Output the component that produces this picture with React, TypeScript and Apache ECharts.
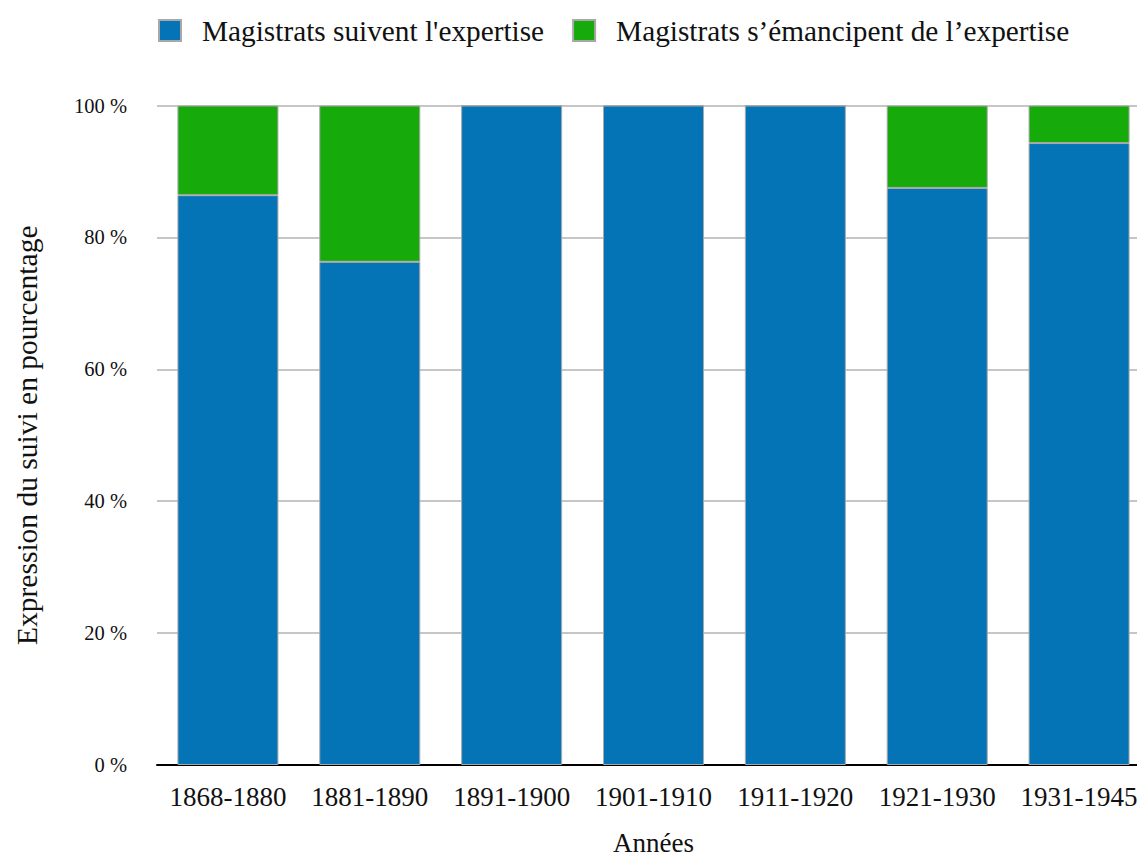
import React, { useEffect, useRef } from "react";
import * as echarts from "echarts";

const categories = ["1868-1880", "1881-1890", "1891-1900", "1901-1910", "1911-1920", "1921-1930", "1931-1945"];
const suivent = [86.4, 76.3, 100, 100, 100, 87.5, 94.3];
const emancipent = [13.6, 23.7, 0, 0, 0, 12.5, 5.7];
const yTicks = [0, 20, 40, 60, 80, 100];
const legendNames = ["Magistrats suivent l'expertise", "Magistrats s\u2019émancipent de l\u2019expertise"];

const FONT = "'Liberation Serif', 'DejaVu Serif', serif";

export default function App() {
  const ref = useRef<HTMLDivElement>(null);
  useEffect(() => {
    if (!ref.current) return;
    const chart = echarts.init(ref.current, null, { renderer: "svg" });
    chart.setOption({
      animation: false,
      backgroundColor: "#ffffff",
      legend: {
        top: 16,
        left: 158,
        padding: 0,
        itemWidth: 22,
        itemHeight: 21,
        itemGap: 28,
        icon: "rect",
        textStyle: { fontFamily: FONT, fontSize: 29.3, color: "#111", padding: [0, 0, 0, 16] },
        data: legendNames,
      },
      grid: {
        left: 157,
        width: 993,
        top: 105.5,
        height: 659.5,
        containLabel: false,
        outerBoundsMode: "none",
      },
      xAxis: {
        type: "category",
        data: categories,
        name: "Années",
        nameLocation: "middle",
        nameGap: 64,
        nameTextStyle: { fontFamily: FONT, fontSize: 27, color: "#111" },
        axisLine: { lineStyle: { color: "#000", width: 2 } },
        axisTick: { show: false },
        axisLabel: { interval: 0, fontFamily: FONT, fontSize: 27, color: "#111", margin: 18 },
      },
      yAxis: {
        type: "value",
        min: 0,
        max: 100,
        interval: 20,
        name: "Expression du suivi en pourcentage",
        nameLocation: "middle",
        nameGap: 115,
        nameTextStyle: { fontFamily: FONT, fontSize: 29.5, color: "#111" },
        axisLine: { show: false },
        axisTick: { show: false },
        splitLine: { lineStyle: { color: "#b3b3b3", width: 1.5 } },
        axisLabel: {
          fontFamily: FONT,
          fontSize: 20.5,
          color: "#111",
          margin: 30,
          formatter: (v: number) => (yTicks.includes(v) ? `${v} %` : ""),
        },
      },
      series: [
        {
          name: legendNames[0],
          type: "bar",
          stack: "total",
          data: suivent,
          barWidth: 101,
          itemStyle: { color: "#0474B7", borderColor: "#a8a8a8", borderWidth: 1 },
        },
        {
          name: legendNames[1],
          type: "bar",
          stack: "total",
          data: emancipent,
          barWidth: 101,
          itemStyle: { color: "#16AA0A", borderColor: "#a8a8a8", borderWidth: 1 },
        },
      ],
    });
    return () => chart.dispose();
  }, []);
  return (
    <div
      ref={ref}
      style={{ position: "absolute", left: 0, top: 0, width: 1137, height: 856 }}
    />
  );
}
